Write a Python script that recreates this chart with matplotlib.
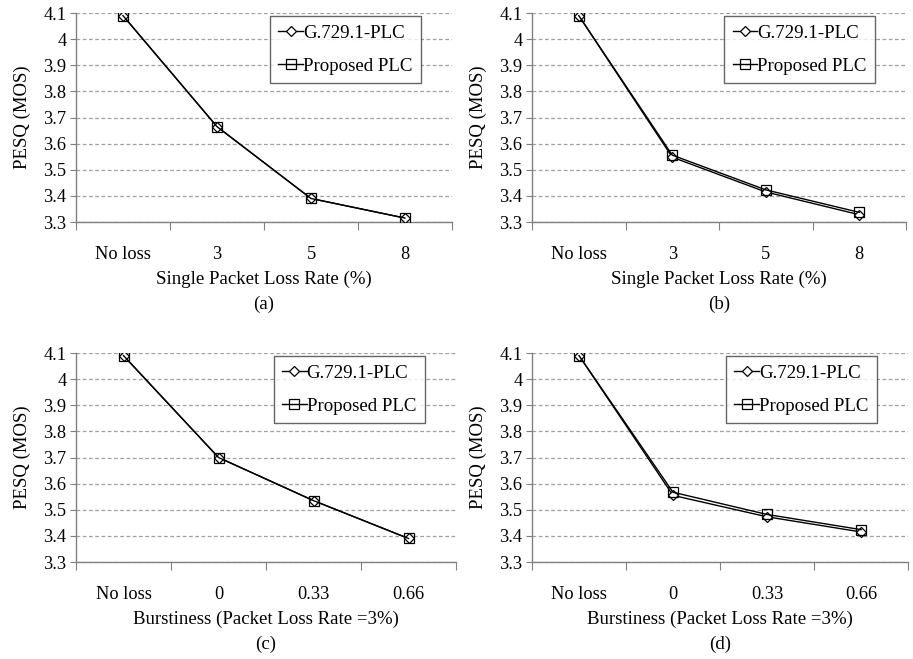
import matplotlib
matplotlib.use("Agg")
import matplotlib.pyplot as plt
import numpy as np

plt.rcParams['font.family'] = ['Liberation Serif', 'DejaVu Serif']

cats_loss = ["No loss", "3", "5", "8"]
cats_burst = ["No loss", "0", "0.33", "0.66"]

a_g729 = [4.09, 3.665, 3.39, 3.315]
a_prop = [4.09, 3.665, 3.39, 3.315]
b_g729 = [4.09, 3.548, 3.415, 3.328]
b_prop = [4.09, 3.556, 3.423, 3.337]
c_g729 = [4.09, 3.70, 3.535, 3.39]
c_prop = [4.09, 3.70, 3.535, 3.39]
d_g729 = [4.09, 3.555, 3.473, 3.415]
d_prop = [4.09, 3.567, 3.482, 3.424]

yticks = [3.3, 3.4, 3.5, 3.6, 3.7, 3.8, 3.9, 4.0, 4.1]
ytick_labels = ["3.3", "3.4", "3.5", "3.6", "3.7", "3.8", "3.9", "4", "4.1"]

xlabel_loss = "Single Packet Loss Rate (%)"
xlabel_burst = "Burstiness (Packet Loss Rate =3%)"

fig = plt.figure(figsize=(9.13, 6.59), dpi=100)
W, H = 913, 659

def make_ax(l, r, t, b):
    return fig.add_axes([l / W, 1 - b / H, (r - l) / W, (b - t) / H])

panels = [
    (make_ax(76, 452, 13, 222), cats_loss, a_g729, a_prop, xlabel_loss, "(a)"),
    (make_ax(532, 906, 13, 222), cats_loss, b_g729, b_prop, xlabel_loss, "(b)"),
    (make_ax(76, 456, 353, 562), cats_burst, c_g729, c_prop, xlabel_burst, "(c)"),
    (make_ax(532, 908, 353, 562), cats_burst, d_g729, d_prop, xlabel_burst, "(d)"),
]

px = 0.72  # points per pixel at 100 dpi
for ax, cats, g, p, xl, tag in panels:
    x = np.arange(len(cats)) + 0.5
    ax.plot(x, g, color='black', lw=1.0, marker='D', markersize=5.5,
            markerfacecolor='white', markeredgecolor='black', markeredgewidth=0.9,
            label='G.729.1-PLC', zorder=3)
    ax.plot(x, p, color='black', lw=1.0, marker='s', markersize=7,
            markerfacecolor='none', markeredgecolor='black', markeredgewidth=0.9,
            label='Proposed PLC', zorder=4)
    ax.set_xlim(0, len(cats))
    ax.set_ylim(3.3, 4.1)
    ax.set_yticks(yticks)
    ax.set_yticklabels(ytick_labels, fontsize=13.2)
    ax.set_xticks(np.arange(len(cats) + 1))
    ax.set_xticklabels([])
    ax.set_xticks(x, minor=True)
    ax.set_xticklabels(cats, minor=True, fontsize=13.2)
    ax.tick_params(axis='x', which='major', length=6, direction='out', color='#808080')
    ax.tick_params(axis='x', which='minor', length=0, pad=17)
    ax.tick_params(axis='y', length=4, color='#808080', pad=3)
    for s in ['top', 'right']:
        ax.spines[s].set_visible(False)
    for s in ['left', 'bottom']:
        ax.spines[s].set_color('#808080')
        ax.spines[s].set_linewidth(1.0)
    ax.grid(axis='y', linestyle=(0, (3, 2)), color='#a0a0a0', lw=0.9)
    ax.set_axisbelow(True)
    ax.set_ylabel("PESQ (MOS)", fontsize=13.5, labelpad=9)
    ax.annotate(xl, xy=(0.5, 0), xycoords='axes fraction',
                xytext=(0, -57 * px), textcoords='offset points',
                ha='center', va='center', fontsize=13.6)
    ax.annotate(tag, xy=(0.5, 0), xycoords='axes fraction',
                xytext=(0, -82 * px), textcoords='offset points',
                ha='center', va='center', fontsize=13.6)
    leg = ax.legend(loc='upper right', bbox_to_anchor=(0.925, 1.0), fontsize=13.6,
                    frameon=True, fancybox=False, handlelength=1.3, handletextpad=0.0,
                    borderpad=0.45, labelspacing=0.85, borderaxespad=0.15)
    leg.get_frame().set_edgecolor('#404040')
    leg.get_frame().set_linewidth(1.0)

fig.savefig("out.png", dpi=100)
